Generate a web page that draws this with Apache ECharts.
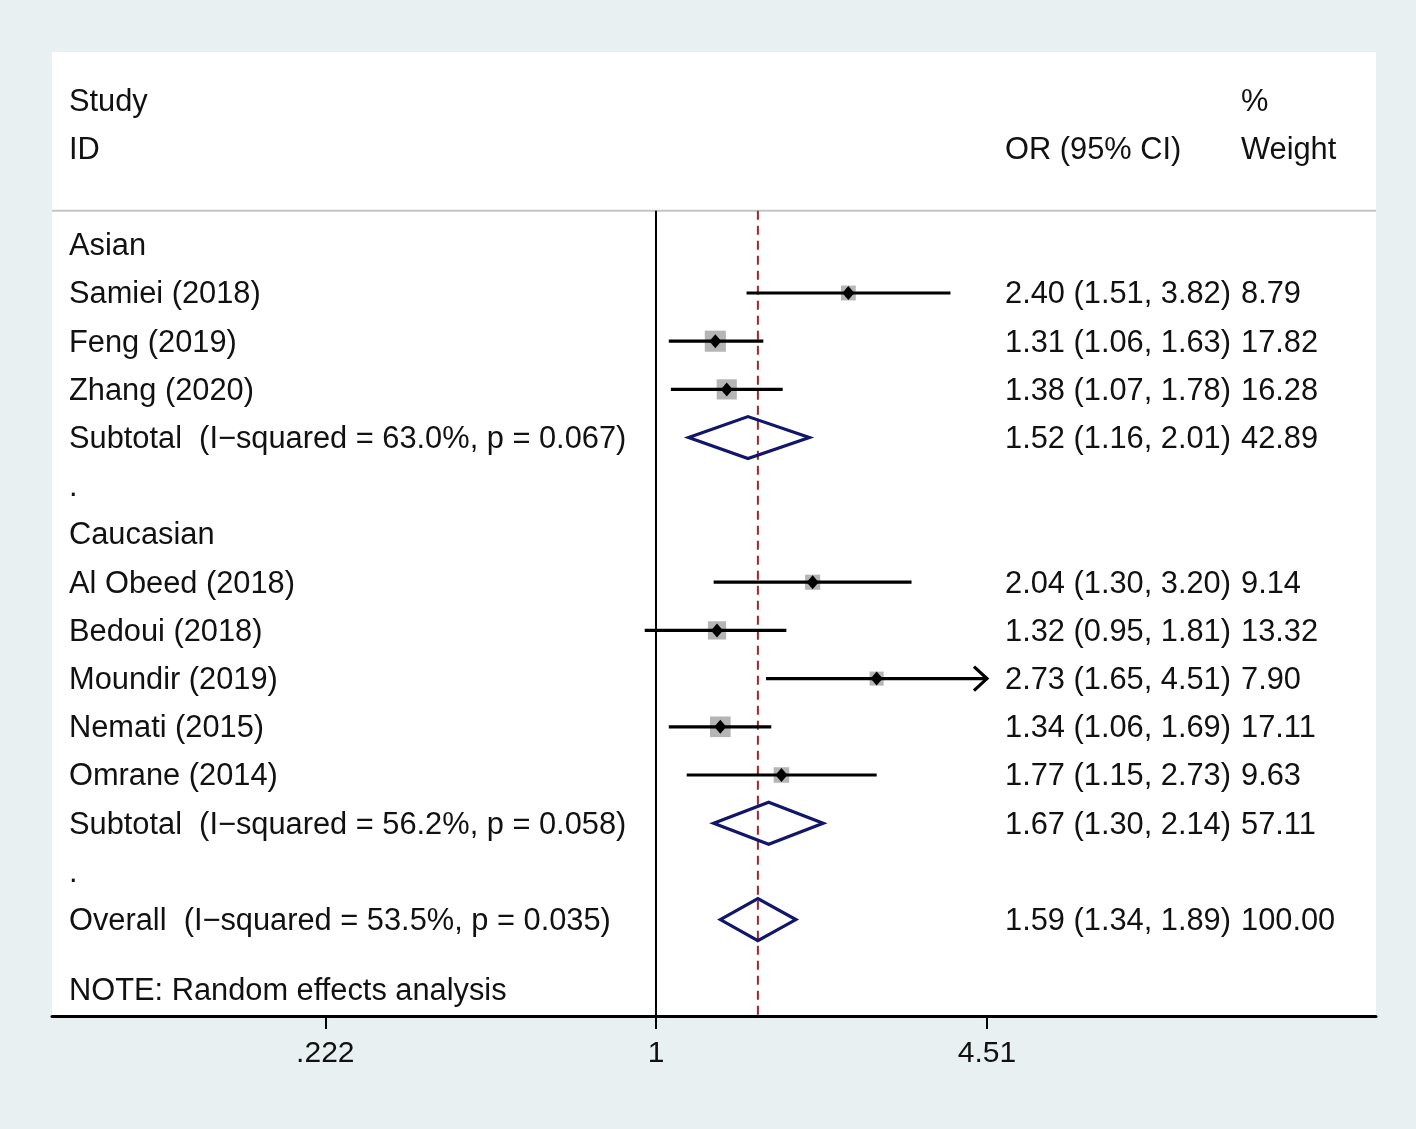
<!DOCTYPE html>
<html><head><meta charset="utf-8">
<script src="https://cdn.jsdelivr.net/npm/echarts@6/dist/echarts.min.js"></script>
<style>html,body{margin:0;padding:0;background:#e8f0f2;}#c{width:1416px;height:1129px;}</style>
</head><body><div id="c"></div>
<script>
// ---- data ----
const groupNames = ['Asian', 'Caucasian'];
const groupRows = [0, 6];

const studyNames = ['Samiei (2018)', 'Feng (2019)', 'Zhang (2020)', 'Al Obeed (2018)', 'Bedoui (2018)', 'Moundir (2019)', 'Nemati (2015)', 'Omrane (2014)'];
const studyRows = [1, 2, 3, 7, 8, 9, 10, 11];
const studyOR = [2.40, 1.31, 1.38, 2.04, 1.32, 2.73, 1.34, 1.77];
const studyLo = [1.51, 1.06, 1.07, 1.30, 0.95, 1.65, 1.06, 1.15];
const studyHi = [3.82, 1.63, 1.78, 3.20, 1.81, 4.51, 1.69, 2.73];
const studyWeight = [8.79, 17.82, 16.28, 9.14, 13.32, 7.90, 17.11, 9.63];

const pooledNames = ['Subtotal  (I\u2212squared = 63.0%, p = 0.067)', 'Subtotal  (I\u2212squared = 56.2%, p = 0.058)', 'Overall  (I\u2212squared = 53.5%, p = 0.035)'];
const pooledRows = [4, 12, 14];
const pooledOR = [1.52, 1.67, 1.59];
const pooledLo = [1.16, 1.30, 1.34];
const pooledHi = [2.01, 2.14, 1.89];
const pooledWeight = [42.89, 57.11, 100.00];

const spacerRows = [5, 13];
const noteText = 'NOTE: Random effects analysis';
const noteRow = 15.45;

const tickValues = [0.222, 1, 4.51];
const tickLabels = ['.222', '1', '4.51'];

// ---- layout / style ----
const FONT = '"Liberation Sans", Arial, Helvetica, sans-serif';
const FS = 30.8;
const TXT = '#111111';
const X_MIN = -2.749, X_MAX = 3.277;
const SEP_ROW = -0.705;
const COL_LABEL = 17, COL_CI = 953, COL_WT = 1189;
const TEXT_DY = 2;

const fmt = v => v.toFixed(2);

// build text rows
const textRows = [];
textRows.push({ row: -3, items: [['Study', COL_LABEL], ['%', COL_WT]] });
textRows.push({ row: -2, items: [['ID', COL_LABEL], ['OR (95% CI)', COL_CI], ['Weight', COL_WT]] });
groupNames.forEach((g, i) => textRows.push({ row: groupRows[i], items: [[g, COL_LABEL]] }));
studyNames.forEach((n, i) => textRows.push({ row: studyRows[i], items: [[n, COL_LABEL], [fmt(studyOR[i]) + ' (' + fmt(studyLo[i]) + ', ' + fmt(studyHi[i]) + ')', COL_CI], [fmt(studyWeight[i]), COL_WT]] }));
pooledNames.forEach((n, i) => textRows.push({ row: pooledRows[i], items: [[n, COL_LABEL], [fmt(pooledOR[i]) + ' (' + fmt(pooledLo[i]) + ', ' + fmt(pooledHi[i]) + ')', COL_CI], [fmt(pooledWeight[i]), COL_WT]] }));
spacerRows.forEach(r => textRows.push({ row: r, items: [['.', COL_LABEL]] }));
textRows.push({ row: noteRow, items: [[noteText, COL_LABEL]] });

const studyData = studyNames.map((n, i) => [studyRows[i], studyOR[i], studyLo[i], studyHi[i], studyWeight[i]]);
const pooledData = pooledNames.map((n, i) => [pooledRows[i], pooledOR[i], pooledLo[i], pooledHi[i]]);
const overallOR = pooledOR[pooledOR.length - 1];
const maxTick = tickValues[tickValues.length - 1];

const chart = echarts.init(document.getElementById('c'), null, { renderer: 'canvas' });

chart.setOption({
  backgroundColor: '#e8f0f2',
  animation: false,
  grid: { left: 52, top: 52, width: 1324, height: 964, show: true, backgroundColor: '#ffffff', borderWidth: 0 },
  xAxis: {
    type: 'value', min: X_MIN, max: X_MAX,
    splitLine: { show: false },
    axisLine: { show: true, onZero: false, lineStyle: { color: '#000', width: 3 } },
    axisTick: { show: true, customValues: tickValues.map(Math.log), length: 13, lineStyle: { color: '#000', width: 2 } },
    axisLabel: {
      show: true, customValues: tickValues.map(Math.log), margin: 23,
      fontSize: 30, fontFamily: FONT, color: TXT,
      formatter: v => {
        let best = 0;
        tickValues.forEach((t, i) => { if (Math.abs(Math.log(t) - v) < Math.abs(Math.log(tickValues[best]) - v)) best = i; });
        return tickLabels[best];
      }
    }
  },
  yAxis: { type: 'value', inverse: true, min: -4, max: 16, show: false },
  series: [
    { // reference lines + separator
      type: 'custom', clip: false, z: 1,
      data: [[0]],
      renderItem: (params, api) => {
        const cs = params.coordSys;
        const ySep = api.coord([0, SEP_ROW])[1];
        const yBot = cs.y + cs.height;
        const x1 = api.coord([0, 0])[0];
        const xo = api.coord([Math.log(overallOR), 0])[0];
        return { type: 'group', children: [
          { type: 'line', shape: { x1: cs.x, y1: ySep, x2: cs.x + cs.width, y2: ySep }, style: { stroke: '#c4c4c4', lineWidth: 2 } },
          { type: 'line', shape: { x1: x1, y1: ySep, x2: x1, y2: yBot }, style: { stroke: '#000', lineWidth: 2 } },
          { type: 'line', shape: { x1: xo, y1: ySep, x2: xo, y2: yBot }, style: { stroke: '#a0262e', lineWidth: 2, lineDash: [9, 6] } }
        ] };
      }
    },
    { // studies
      type: 'custom', clip: false, z: 3,
      data: studyData,
      renderItem: (params, api) => {
        const row = api.value(0), or = api.value(1), lo = api.value(2), hi = api.value(3), w = api.value(4);
        const clipped = hi >= maxTick;
        const pLo = api.coord([Math.log(lo), row]);
        const pHi = api.coord([Math.log(Math.min(hi, maxTick)), row]);
        const pc = api.coord([Math.log(or), row]);
        const s = 5 * Math.sqrt(w);
        const ch = [
          { type: 'rect', shape: { x: pc[0] - s / 2, y: pc[1] - s / 2, width: s, height: s }, style: { fill: '#b5b5b5' } },
          { type: 'line', shape: { x1: pLo[0], y1: pLo[1], x2: pHi[0], y2: pHi[1] }, style: { stroke: '#000', lineWidth: 3.2 } },
          { type: 'polygon', shape: { points: [[pc[0] - 6, pc[1]], [pc[0], pc[1] - 7], [pc[0] + 6, pc[1]], [pc[0], pc[1] + 7]] }, style: { fill: '#000' } }
        ];
        if (clipped) {
          ch.push({ type: 'polyline', shape: { points: [[pHi[0] - 13, pHi[1] - 12], [pHi[0], pHi[1]], [pHi[0] - 13, pHi[1] + 12]] }, style: { stroke: '#000', lineWidth: 3.2, fill: null } });
        }
        return { type: 'group', children: ch };
      }
    },
    { // pooled diamonds
      type: 'custom', clip: false, z: 3,
      data: pooledData,
      renderItem: (params, api) => {
        const row = api.value(0), or = api.value(1), lo = api.value(2), hi = api.value(3);
        const pLo = api.coord([Math.log(lo), row]);
        const pHi = api.coord([Math.log(hi), row]);
        const pc = api.coord([Math.log(or), row]);
        const h = 21;
        return { type: 'polygon', shape: { points: [[pLo[0], pLo[1]], [pc[0], pc[1] - h], [pHi[0], pHi[1]], [pc[0], pc[1] + h]] },
          style: { fill: null, stroke: '#12166b', lineWidth: 3.2, lineJoin: 'miter' } };
      }
    },
    { // text columns
      type: 'custom', clip: false, z: 4,
      data: textRows.map(r => [r.row]),
      renderItem: (params, api) => {
        const cs = params.coordSys;
        const tr = textRows[params.dataIndex];
        const y = api.coord([0, api.value(0)])[1] + TEXT_DY;
        return { type: 'group', children: tr.items.map(it => ({
          type: 'text', x: cs.x + it[1], y: y,
          style: { text: it[0], fill: TXT, font: FS + 'px ' + FONT, textAlign: 'left', textVerticalAlign: 'middle' }
        })) };
      }
    }
  ]
});
</script></body></html>
